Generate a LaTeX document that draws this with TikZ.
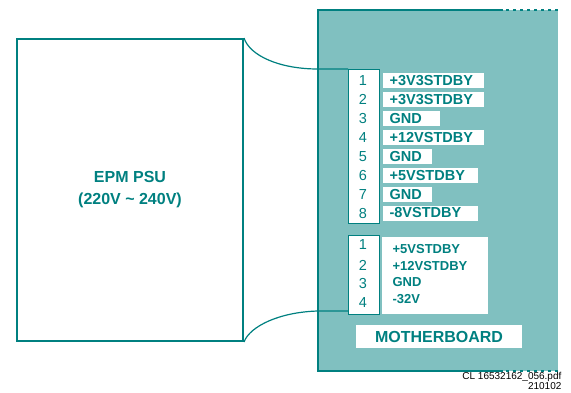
\documentclass[tikz,border=0pt]{standalone}
\usepackage{fontspec}
\setmainfont{Liberation Sans}
\definecolor{mbteal}{RGB}{0,128,128}
\definecolor{mbfill}{RGB}{128,192,192}

\begin{document}
\begin{tikzpicture}[x=1pt, y=-1pt, line width=1.2pt,
    box/.style={draw=mbteal, line width=2pt, rectangle, inner sep=0pt},
    cable/.style={draw=mbteal, line width=1.2pt},
    conn/.style={draw=mbteal, fill=white, line width=1.3pt, rectangle, inner sep=0pt, anchor=north west, minimum width=31pt},
    pin/.style={text=mbteal, font=\fontsize{14.5}{14.5}\selectfont},
    sig/.style={fill=white, anchor=west, minimum height=15pt, inner xsep=7pt, inner ysep=0pt, text width=#1, align=left, text=mbteal, font=\bfseries\fontsize{14.5}{14.5}\selectfont},
    sigb/.style={anchor=west, inner sep=0pt, text=mbteal, font=\bfseries\fontsize{13}{13}\selectfont},
    foot/.style={anchor=east, inner sep=0pt, font=\fontsize{10}{10}\selectfont}]
    \useasboundingbox (0,0) rectangle (571,392);
    \fill[mbfill] (318,10) rectangle (558,371);
    \draw[mbteal, line width=2pt] (503,10) -- (318,10) -- (318,371) -- (503,371);
    \draw[mbteal, line width=2.2pt, dash pattern=on 3pt off 4pt] (506,10) -- (558,10);
    \draw[mbteal, line width=2.2pt, dash pattern=on 3pt off 4pt] (506,371) -- (558,371);
    \node[box, minimum width=226pt, minimum height=302pt, text=mbteal, align=center, font=\bfseries\fontsize{16}{22}\selectfont] (psu) at (130,190) {EPM PSU\\(220V \textasciitilde{} 240V)};
    \node[conn, minimum height=154pt] (cnA) at (348,69) {};
    \node[conn, minimum height=79pt] (cnB) at (348,235) {};
    \coordinate (jA) at (318,69);
    \coordinate (jB) at (318,311);
    \draw[cable] (psu.north east) .. controls (250,56) and (280,69) .. (jA) -- (cnA.north west);
    \draw[cable] (psu.south east) .. controls (250,326) and (280,312) .. (jB) -- (jB -| cnB.west);
    \foreach \n in {1,...,8}
        \node[pin] (pa\n) at (363,{80.5+18.93*(\n-1)}) {\n};
    \node[sig=87pt] (sa1) at (382,80.5) {+3V3STDBY};
    \node[sig=87pt] (sa2) at (382,99.4) {+3V3STDBY};
    \node[sig=43pt] (sa3) at (382,118.4) {GND};
    \node[sig=87pt] (sa4) at (382,137.3) {+12VSTDBY};
    \node[sig=35pt] (sa5) at (382,156.2) {GND};
    \node[sig=81pt] (sa6) at (382,175.2) {+5VSTDBY};
    \node[sig=35pt] (sa7) at (382,194.1) {GND};
    \node[sig=81pt] (sa8) at (382,213) {-8VSTDBY};
    \foreach \n/\y in {1/245,2/265,3/284,4/303}
        \node[pin] (pb\n) at (363,\y) {\n};
    \node[fill=white, inner sep=0pt, anchor=north west, minimum width=106pt, minimum height=77pt] (sb) at (381,236) {};
    \node[sigb] (sb1) at (392,249) {+5VSTDBY};
    \node[sigb] (sb2) at (392,266) {+12VSTDBY};
    \node[sigb] (sb3) at (392,282.5) {GND};
    \node[sigb] (sb4) at (392,299) {-32V};
    \node[fill=white, minimum width=166pt, minimum height=23pt, text=mbteal, font=\bfseries\fontsize{16}{16}\selectfont] (mb) at (439,336.5) {MOTHERBOARD};
    \node[foot] (ftA) at (562,377) {CL 16532162\_056.pdf};
    \node[foot] (ftB) at (562,386.5) {210102};
\end{tikzpicture}
\end{document}
